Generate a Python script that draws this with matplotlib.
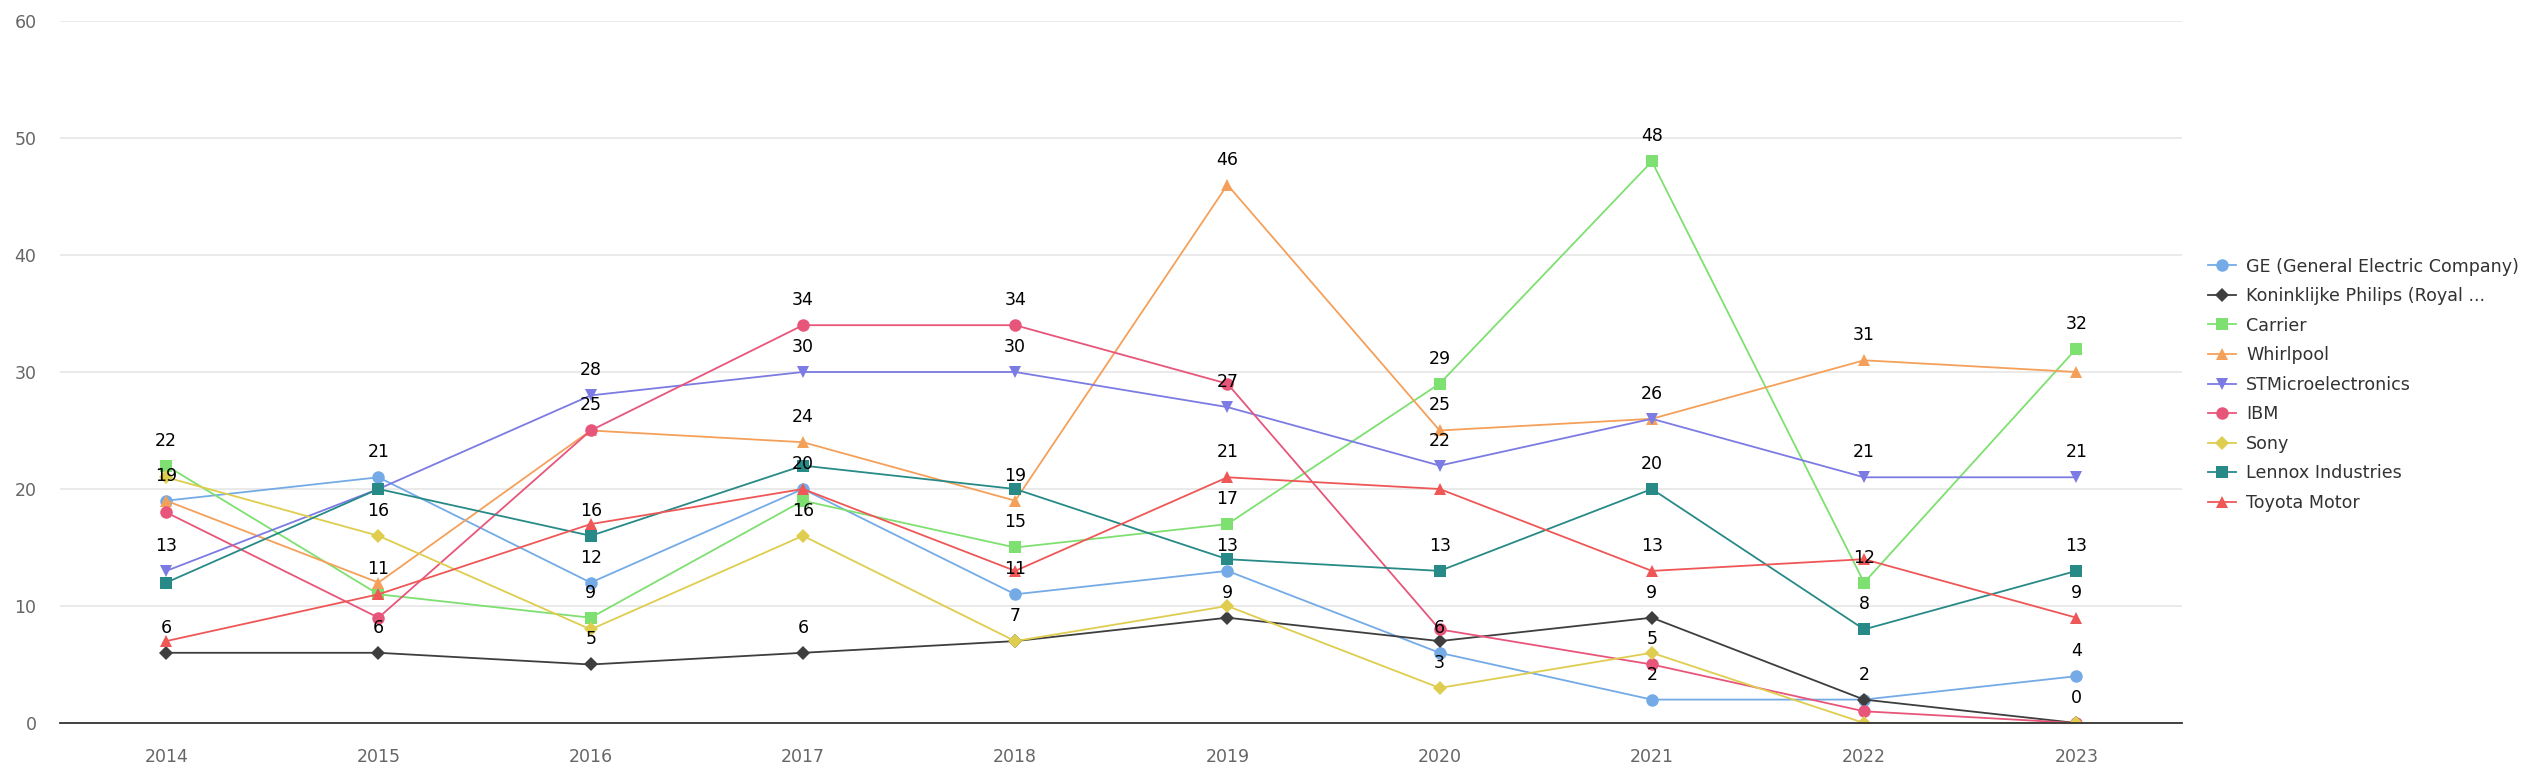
import matplotlib
matplotlib.use('Agg')
import matplotlib.pyplot as plt
import numpy as np

years = ['2014', '2015', '2016', '2017', '2018', '2019', '2020', '2021', '2022', '2023']

series_names = [
    'GE (General Electric Company)',
    'Koninklijke Philips (Royal ...',
    'Carrier',
    'Whirlpool',
    'STMicroelectronics',
    'IBM',
    'Sony',
    'Lennox Industries',
    'Toyota Motor',
]

ge = [19, 21, 12, 20, 11, 13, 6, 2, 2, 4]
philips = [6, 6, 5, 6, 7, 9, 7, 9, 2, 0]
carrier = [22, 11, 9, 19, 15, 17, 29, 48, 12, 32]
whirlpool = [19, 12, 25, 24, 19, 46, 25, 26, 31, 30]
stmicro = [13, 20, 28, 30, 30, 27, 22, 26, 21, 21]
ibm = [18, 9, 25, 34, 34, 29, 8, 5, 1, 0]
sony = [21, 16, 8, 16, 7, 10, 3, 6, 0, 0]
lennox = [12, 20, 16, 22, 20, 14, 13, 20, 8, 13]
toyota = [7, 11, 17, 20, 13, 21, 20, 13, 14, 9]

series_values = [ge, philips, carrier, whirlpool, stmicro, ibm, sony, lennox, toyota]

colors = ['#74abe6', '#3e3e3e', '#7ee070', '#f5a05a', '#7b7be3',
          '#e8557a', '#decd4e', '#278a87', '#ef5757']
markers = ['o', 'D', 's', '^', 'v', 'o', 'D', 's', '^']
msizes = [9, 7, 8.5, 9, 9, 9, 7, 8.5, 9]

plt.rcParams['font.family'] = ['DejaVu Sans']

fig = plt.figure(figsize=(25.26, 7.78), dpi=100)
ax = fig.add_axes([0.0238, 0.0707, 0.8402, 0.9023])

x = np.arange(len(years))
for name, vals, c, m, ms in zip(series_names, series_values, colors, markers, msizes):
    ax.plot(x, vals, color=c, marker=m, markersize=ms, linewidth=1.3,
            label=name, markeredgewidth=0)

ax.set_xlim(-0.5, len(years) - 0.5)
ax.set_ylim(0, 60)
ax.set_yticks(range(0, 61, 10))
ax.set_xticks(x)
ax.set_xticklabels(years)
ax.tick_params(axis='both', length=0, labelsize=12.5, labelcolor='#666666')
ax.tick_params(axis='x', pad=18)
ax.tick_params(axis='y', pad=17)
ax.grid(axis='y', color='#e6e6e6', linewidth=1.2)
ax.set_axisbelow(True)
for side in ['top', 'right', 'left']:
    ax.spines[side].set_visible(False)
ax.spines['bottom'].set_color('#333333')
ax.spines['bottom'].set_linewidth(1.3)

# value labels, hide ones that would overlap (greedy in series order)
fig.canvas.draw()
placed = {i: [] for i in range(len(years))}
for vals in series_values:
    for i, v in enumerate(vals):
        px = ax.transData.transform((i, v))[1] + 25
        if any(abs(px - p) < 28 for p in placed[i]):
            continue
        placed[i].append(px)
        ax.annotate(str(v), (i, v), xytext=(0, 25), textcoords='offset pixels',
                    ha='center', va='center', fontsize=12.5, color='#000000',
                    zorder=10, annotation_clip=False)

fig.legend(loc='upper left', bbox_to_anchor=(0.874, 0.669), frameon=False,
           fontsize=12.6, labelcolor='#333333', handlelength=1.6,
           handletextpad=0.6, labelspacing=0.66, borderpad=0, borderaxespad=0)

fig.savefig('out.png', dpi=100)
